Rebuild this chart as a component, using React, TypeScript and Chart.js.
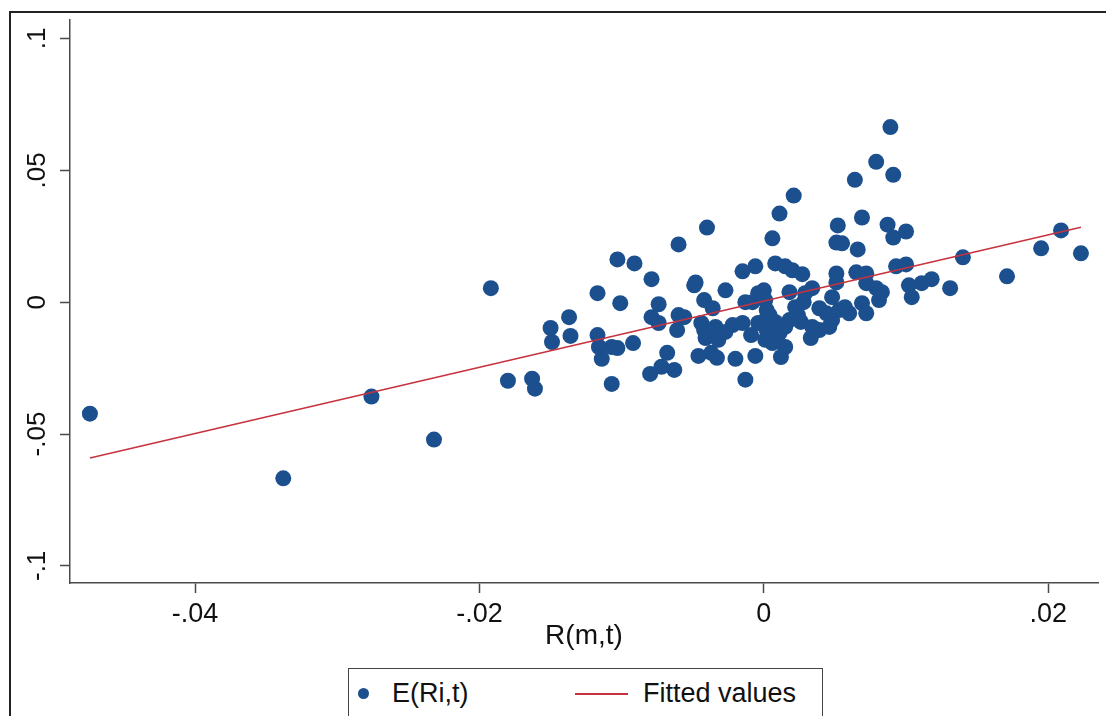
import React, { useEffect, useRef } from "react";
import { Chart, registerables } from "chart.js";

Chart.register(...registerables);

// Scatter series E(Ri,t): x = R(m,t), y = E(Ri,t)
const pointsX = [
  -0.0474, -0.0338, -0.0276, -0.0232, -0.0192, -0.018, -0.0163, -0.0161, -0.015, -0.0149,
  -0.0137, -0.0136, -0.0117, -0.0117, -0.0116, -0.0114, -0.0107, -0.0103, -0.0107, -0.0103,
  -0.0101, -0.0092, -0.0091, -0.0079, -0.008, -0.0072, -0.0063, -0.0074, -0.0079, -0.0074,
  -0.0068, -0.006, -0.006, -0.0056, -0.0061, -0.0048, -0.0049, -0.0046, -0.0044, -0.0042,
  -0.0041, -0.0042, -0.004, -0.0037, -0.0036, -0.0034, -0.0033, -0.0032, -0.0027, -0.0022,
  -0.002, -0.0015, -0.0015, -0.0013, -0.0013, -0.0008, -0.0006, -0.0006, -0.0004, -0.0004,
  0.0, 0.0001, 0.0001, 0.0001, 0.0002, 0.0002, 0.0006, 0.0006, 0.0008, 0.0008,
  0.0011, 0.0011, 0.0012, 0.0015, 0.0015, 0.0015, 0.0018, 0.0018, 0.002, 0.0021,
  0.0022, 0.0026, 0.0027, 0.0028, 0.0029, 0.0033, 0.0034, 0.0034, 0.0039, 0.0039,
  0.0044, 0.0046, 0.0048, 0.0048, 0.0051, 0.0051, 0.0051, 0.0052, 0.0053, 0.0055,
  0.006, 0.0064, 0.0065, 0.0066, 0.0069, 0.0069, 0.0072, 0.0072, 0.0072, 0.0079,
  0.0079, 0.0081, 0.0083, 0.0087, 0.0089, 0.0091, 0.0091, 0.0093, 0.01, 0.01,
  0.0102, 0.0104, 0.0111, 0.0118, 0.0131, 0.014, 0.0171, 0.0195, 0.0209, 0.0223,
  -0.0009, 0.0004, 0.0009, 0.0024, -0.0027, 0.0057,
];
const pointsY = [
  -0.0423, -0.0668, -0.0358, -0.0521, 0.0053, -0.0298, -0.029, -0.0328, -0.0098, -0.0151,
  -0.0057, -0.0128, 0.0034, -0.0125, -0.017, -0.0215, -0.017, -0.0174, -0.031, 0.0162,
  -0.0004, -0.0155, 0.0147, 0.0087, -0.0272, -0.0245, -0.0257, -0.0008, -0.0057, -0.0079,
  -0.0192, 0.0219, -0.0049, -0.0057, -0.0106, 0.0075, 0.0064, -0.0204, -0.0079, -0.0106,
  -0.0136, 0.0008, 0.0283, -0.0192, -0.0023, -0.0094, -0.0211, -0.0143, 0.0045, -0.0087,
  -0.0215, 0.0117, -0.0079, 0.0, -0.0294, 0.0, 0.0136, -0.0204, 0.0034, -0.0079,
  0.0045, 0.0008, -0.0068, -0.0143, -0.003, -0.0106, 0.0242, -0.0155, 0.0147, -0.0075,
  0.0336, -0.0117, -0.0208, 0.0136, -0.0094, -0.017, 0.0038, -0.0068, 0.0121, 0.0404,
  -0.0019, -0.0075, 0.0106, 0.0, 0.0034, -0.0136, 0.0053, -0.0094, -0.0023, -0.0106,
  -0.0042, -0.0094, 0.0019, -0.0068, 0.0226, 0.0109, 0.0075, 0.0291, -0.003, 0.0223,
  -0.0042, 0.0464, 0.0113, 0.02, 0.0321, -0.0004, 0.0109, 0.0072, -0.0042, 0.0532,
  0.0053, 0.0008, 0.0038, 0.0294, 0.0664, 0.0483, 0.0245, 0.0136, 0.0268, 0.0143,
  0.0064, 0.0019, 0.0072, 0.0087, 0.0053, 0.017, 0.0098, 0.0204, 0.0272, 0.0185,
  -0.0125, -0.0049, -0.0128, -0.0049, -0.0113, -0.0019,
];

// Fitted values line endpoints
const fitX = [-0.0474, 0.0223];
const fitY = [-0.0591, 0.0284];

const xTicks = [-0.04, -0.02, 0, 0.02];
const xTickLabels = ["-.04", "-.02", "0", ".02"];
const yTicks = [-0.1, -0.05, 0, 0.05, 0.1];
const yTickLabels = ["-.1", "-.05", "0", ".05", ".1"];
const xTitle = "R(m,t)";
const seriesLabels = ["E(Ri,t)", "Fitted values"];

const MARKER = "#1b4f8e";
const FITCOL = "#c7323f";
const AXIS = "#4a4a4a";
const FONT = "'Liberation Sans', Arial, Helvetica, sans-serif";

function lookup(ticks: number[], labels: string[], v: number) {
  const i = ticks.findIndex((t) => Math.abs(t - v) < 1e-9);
  return i >= 0 ? labels[i] : "";
}

export default function App() {
  const ref = useRef<HTMLCanvasElement | null>(null);

  useEffect(() => {
    if (!ref.current) return;
    const scatterData = pointsX.map((x, i) => ({ x, y: pointsY[i] }));
    const fitData = fitX.map((x, i) => ({ x, y: fitY[i] }));
    const chart = new Chart(ref.current, {
      type: "scatter",
      data: {
        datasets: [
          {
            type: "scatter",
            label: seriesLabels[0],
            data: scatterData,
            backgroundColor: MARKER,
            borderWidth: 0,
            pointRadius: 8,
            pointHoverRadius: 8,
            order: 2,
          },
          {
            type: "line",
            label: seriesLabels[1],
            data: fitData,
            borderColor: FITCOL,
            borderWidth: 1.6,
            pointRadius: 0,
            fill: false,
            tension: 0,
            order: 1,
          } as any,
        ],
      },
      options: {
        animation: false,
        responsive: false,
        layout: { padding: { left: 10, top: 20, right: 6, bottom: 63 } },
        plugins: {
          legend: { display: false },
          tooltip: { enabled: false },
        },
        scales: {
          x: {
            type: "linear",
            min: -0.0488,
            max: 0.0235,
            afterBuildTicks: (s: any) => {
              s.ticks = xTicks.map((v) => ({ value: v }));
            },
            afterFit: (s: any) => {
              s.height = 70;
            },
            ticks: {
              callback: (v: any) => lookup(xTicks, xTickLabels, Number(v)),
              font: { family: FONT, size: 27 },
              color: "#111",
              padding: 5,
              maxRotation: 0,
              minRotation: 0,
              autoSkip: false,
            },
            grid: {
              drawOnChartArea: false,
              drawTicks: true,
              tickLength: 10,
              tickColor: AXIS,
              tickWidth: 1.5,
            },
            border: { display: true, color: AXIS, width: 1.5 },
            title: {
              display: true,
              text: xTitle,
              font: { family: FONT, size: 28 },
              color: "#111",
              padding: 0,
            },
          },
          y: {
            type: "linear",
            min: -0.1065,
            max: 0.107,
            afterBuildTicks: (s: any) => {
              s.ticks = yTicks.map((v) => ({ value: v }));
            },
            afterFit: (s: any) => {
              s.width = 60;
            },
            ticks: {
              callback: (v: any) => lookup(yTicks, yTickLabels, Number(v)),
              font: { family: FONT, size: 26 },
              color: "#111",
              padding: 0,
              minRotation: 90,
              maxRotation: 90,
              crossAlign: "center",
              autoSkip: false,
            },
            grid: {
              drawOnChartArea: false,
              drawTicks: true,
              tickLength: 10,
              tickColor: AXIS,
              tickWidth: 1.5,
            },
            border: { display: true, color: AXIS, width: 1.5 },
          },
        },
      },
    });
    return () => chart.destroy();
  }, []);

  return (
    <div
      style={{
        position: "fixed",
        left: 0,
        top: 0,
        width: 1106,
        height: 716,
        background: "#fff",
        overflow: "hidden",
        fontFamily: FONT,
      }}
    >
      <div
        style={{
          position: "absolute",
          left: 9,
          top: 11,
          width: 1200,
          height: 800,
          borderLeft: "2px solid #222",
          borderTop: "2px solid #222",
        }}
      />
      <canvas
        ref={ref}
        width={1106}
        height={716}
        style={{ position: "absolute", left: 0, top: 0, width: 1106, height: 716 }}
      />
      <div
        style={{
          position: "absolute",
          left: 348,
          top: 668,
          width: 475,
          height: 70,
          boxSizing: "border-box",
          border: "1.5px solid #444",
          background: "#fff",
        }}
      >
        <div
          style={{
            position: "absolute",
            left: 9,
            top: 19,
            width: 11,
            height: 11,
            borderRadius: "50%",
            background: MARKER,
          }}
        />
        <div
          style={{
            position: "absolute",
            left: 43,
            top: 8,
            fontSize: 27,
            lineHeight: "32px",
            color: "#111",
            whiteSpace: "nowrap",
          }}
        >
          {seriesLabels[0]}
        </div>
        <div
          style={{
            position: "absolute",
            left: 226,
            top: 24,
            width: 53,
            height: 1.6,
            background: FITCOL,
          }}
        />
        <div
          style={{
            position: "absolute",
            left: 294,
            top: 8,
            fontSize: 27,
            lineHeight: "32px",
            color: "#111",
            whiteSpace: "nowrap",
          }}
        >
          {seriesLabels[1]}
        </div>
      </div>
    </div>
  );
}
